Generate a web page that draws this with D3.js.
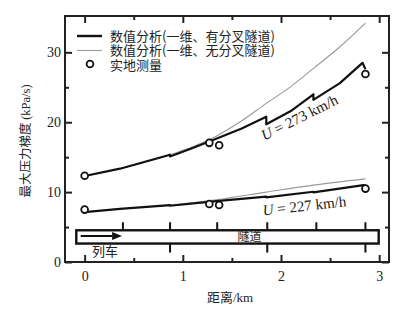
<!DOCTYPE html>
<html>
<head>
<meta charset="utf-8">
<script src="https://cdn.jsdelivr.net/npm/d3@7/dist/d3.min.js"></script>
<style>
  body { margin: 0; background: #fff; }
  svg text { fill: #222; }
</style>
</head>
<body>
<div id="chart"></div>
<script>
// values (distance km, gradient kPa/s)
const xBranch273 = [0, 0.36, 0.87, 0.87, 1.1, 1.34, 1.6, 1.85, 1.85, 2.1, 2.33, 2.33, 2.6, 2.83, 2.86];
const yBranch273 = [12.3, 13.35, 15.35, 15.1, 16.3, 17.65, 19.1, 20.8, 19.7, 21.6, 24.0, 23.2, 25.6, 28.5, 27.6];
const xPlain273 = [0, 0.36, 0.87, 1.1, 1.34, 1.6, 1.85, 2.1, 2.33, 2.6, 2.86];
const yPlain273 = [12.3, 13.35, 15.35, 16.5, 18.0, 20.2, 22.7, 25.1, 27.7, 30.8, 34.2];
const xBranch227 = [0, 0.36, 0.87, 0.87, 1.34, 1.85, 1.85, 2.33, 2.33, 2.84, 2.86];
const yBranch227 = [7.15, 7.6, 8.15, 8.05, 8.7, 9.35, 9.25, 10.05, 9.95, 11.0, 10.9];
const xPlain227 = [0, 0.36, 0.87, 1.34, 1.85, 2.33, 2.86];
const yPlain227 = [7.15, 7.6, 8.15, 8.9, 10.0, 11.0, 11.9];
const xMeasured = [0, 1.27, 1.37, 2.86, 0, 1.27, 1.37, 2.86];
const yMeasured = [12.35, 17.05, 16.7, 26.9, 7.5, 8.3, 8.15, 10.5];

const xTicks = [0, 1, 2, 3];
const xMinor = [0.5, 1.5, 2.5];
const yTicks = [0, 10, 20, 30];
const yMinor = [5, 15, 25];

// tunnel sketch
const tunnelStart = -0.085, tunnelEnd = 2.995, tunnelLow = 2.64, tunnelHigh = 4.54;
const marksAbove = [0.39, 0.87, 1.35, 1.86, 2.36, 2.86];
const marksBelow = [0.87, 1.86, 2.86];

const legendLabels = ["数值分析(一维、有分叉隧道)", "数值分析(一维、无分叉隧道)", "实地测量"];

const width = 404, height = 311;
const mLeft = 65, mRight = 389, mTop = 16, mBottom = 262;

const svg = d3.select("#chart").append("svg")
  .attr("width", width).attr("height", height);

const x = d3.scaleLinear().domain([-0.2, 3.1]).range([mLeft, mRight]);
const y = d3.scaleLinear().domain([0, 35.2]).range([mBottom, mTop]);

const zip = (a, b) => a.map((v, i) => [v, b[i]]);
const line = d3.line().x(d => x(d[0])).y(d => y(d[1]));
const smooth = d3.line().x(d => x(d[0])).y(d => y(d[1])).curve(d3.curveMonotoneX);

// gray curves (no branch)
[zip(xPlain273, yPlain273), zip(xPlain227, yPlain227)].forEach(pts => {
  svg.append("path").attr("d", smooth(pts))
    .attr("fill", "none").attr("stroke", "#999").attr("stroke-width", 1.1);
});
// black curves (with branch)
[zip(xBranch273, yBranch273), zip(xBranch227, yBranch227)].forEach(pts => {
  svg.append("path").attr("d", line(pts))
    .attr("fill", "none").attr("stroke", "#111").attr("stroke-width", 2.2)
    .attr("stroke-linejoin", "round");
});

svg.selectAll(".meas").data(zip(xMeasured, yMeasured)).enter()
  .append("circle").attr("class", "meas")
  .attr("cx", d => x(d[0])).attr("cy", d => y(d[1])).attr("r", 3.4)
  .attr("fill", "#fff").attr("stroke", "#111").attr("stroke-width", 1.8);

// tunnel box
svg.append("rect")
  .attr("x", x(tunnelStart)).attr("y", y(tunnelHigh))
  .attr("width", x(tunnelEnd) - x(tunnelStart)).attr("height", y(tunnelLow) - y(tunnelHigh))
  .attr("fill", "#fcfcfc").attr("stroke", "#111").attr("stroke-width", 2.4);
svg.selectAll(".mUp").data(marksAbove).enter().append("line")
  .attr("x1", d => x(d)).attr("x2", d => x(d))
  .attr("y1", y(tunnelHigh)).attr("y2", y(tunnelHigh) - 8)
  .attr("stroke", "#111").attr("stroke-width", 2);
svg.selectAll(".mDn").data(marksBelow).enter().append("line")
  .attr("x1", d => x(d)).attr("x2", d => x(d))
  .attr("y1", y(tunnelLow)).attr("y2", y(tunnelLow) + 9)
  .attr("stroke", "#111").attr("stroke-width", 2);

// train arrow
const ay = y(3.72);
svg.append("line").attr("x1", x(-0.04)).attr("x2", x(0.28)).attr("y1", ay).attr("y2", ay)
  .attr("stroke", "#111").attr("stroke-width", 2);
svg.append("path")
  .attr("d", `M${x(0.38)},${ay} L${x(0.28)},${ay - 4} L${x(0.28)},${ay + 4} Z`)
  .attr("fill", "#111");

const cjk = "'Noto Sans CJK SC', sans-serif";
const serif = "'Liberation Serif', 'DejaVu Serif', serif";

svg.append("text").attr("x", x(1.68)).attr("y", ay + 4.5)
  .attr("text-anchor", "middle").style("font-family", cjk).style("font-size", "12px")
  .text("隧道");
svg.append("text").attr("x", 105).attr("y", 256)
  .attr("text-anchor", "middle").style("font-family", cjk).style("font-size", "13px")
  .text("列车");

// frame and ticks
function inward(axis, values, size) {
  return axis.tickValues(values).tickSize(-size).tickPadding(9);
}
svg.append("g").attr("transform", `translate(0,${mBottom})`)
  .call(inward(d3.axisBottom(x), xTicks, 7).tickFormat(d3.format("d")));
svg.append("g").attr("transform", `translate(0,${mBottom})`)
  .call(inward(d3.axisBottom(x), xMinor, 4).tickFormat(""));
svg.append("g").attr("transform", `translate(0,${mTop})`)
  .call(inward(d3.axisTop(x), xTicks, 7).tickFormat(""));
svg.append("g").attr("transform", `translate(0,${mTop})`)
  .call(inward(d3.axisTop(x), xMinor, 4).tickFormat(""));
svg.append("g").attr("transform", `translate(${mLeft},0)`)
  .call(inward(d3.axisLeft(y), yTicks, 7).tickPadding(4));
svg.append("g").attr("transform", `translate(${mLeft},0)`)
  .call(inward(d3.axisLeft(y), yMinor, 4).tickFormat(""));
svg.append("g").attr("transform", `translate(${mRight},0)`)
  .call(inward(d3.axisRight(y), yTicks, 7).tickFormat(""));
svg.append("g").attr("transform", `translate(${mRight},0)`)
  .call(inward(d3.axisRight(y), yMinor, 4).tickFormat(""));

svg.selectAll(".domain").remove();
svg.selectAll(".tick line").attr("stroke", "#222").attr("stroke-width", 2);
svg.selectAll(".tick text").style("font-family", serif).style("font-size", "14px").attr("fill", "#222");

svg.append("rect").attr("x", mLeft).attr("y", mTop)
  .attr("width", mRight - mLeft).attr("height", mBottom - mTop)
  .attr("fill", "none").attr("stroke", "#222").attr("stroke-width", 2);

// axis titles
svg.append("text").attr("x", 230).attr("y", 302).attr("text-anchor", "middle")
  .style("font-family", cjk).style("font-size", "13px")
  .html("距离<tspan style=\"font-family:Liberation Serif\">/km</tspan>");
svg.append("text").attr("transform", "translate(30,141) rotate(-90)").attr("text-anchor", "middle")
  .style("font-family", cjk).style("font-size", "12.5px")
  .html("最大压力梯度 <tspan style=\"font-family:Liberation Serif\">(kPa/s)</tspan>");

// speed labels
function speedLabel(px, py, angle, speed) {
  const t = svg.append("text")
    .attr("transform", `translate(${x(px)},${y(py)}) rotate(${angle})`)
    .style("font-family", serif).style("font-size", "15px");
  t.append("tspan").style("font-style", "italic").text("U");
  t.append("tspan").text(" = " + speed + " km/h");
}
speedLabel(1.83, 17.35, -26.6, 273);
speedLabel(1.82, 6.65, -6.4, 227);

// legend (one text block, one row per entry)
const lg = svg.append("g");
lg.append("line").attr("x1", 77).attr("x2", 102).attr("y1", 36).attr("y2", 36)
  .attr("stroke", "#111").attr("stroke-width", 2.4);
lg.append("line").attr("x1", 77).attr("x2", 102).attr("y1", 50.5).attr("y2", 50.5)
  .attr("stroke", "#999").attr("stroke-width", 1.1);
lg.append("circle").attr("cx", 90).attr("cy", 64).attr("r", 3.4)
  .attr("fill", "#fff").attr("stroke", "#111").attr("stroke-width", 1.8);
lg.append("text").attr("y", 40.5)
  .style("font-family", cjk).style("font-size", "13px")
  .selectAll("tspan").data(legendLabels).enter().append("tspan")
  .attr("x", 110).attr("dy", (d, i) => i === 0 ? 0 : 14.5)
  .text(d => d);
</script>
</body>
</html>
